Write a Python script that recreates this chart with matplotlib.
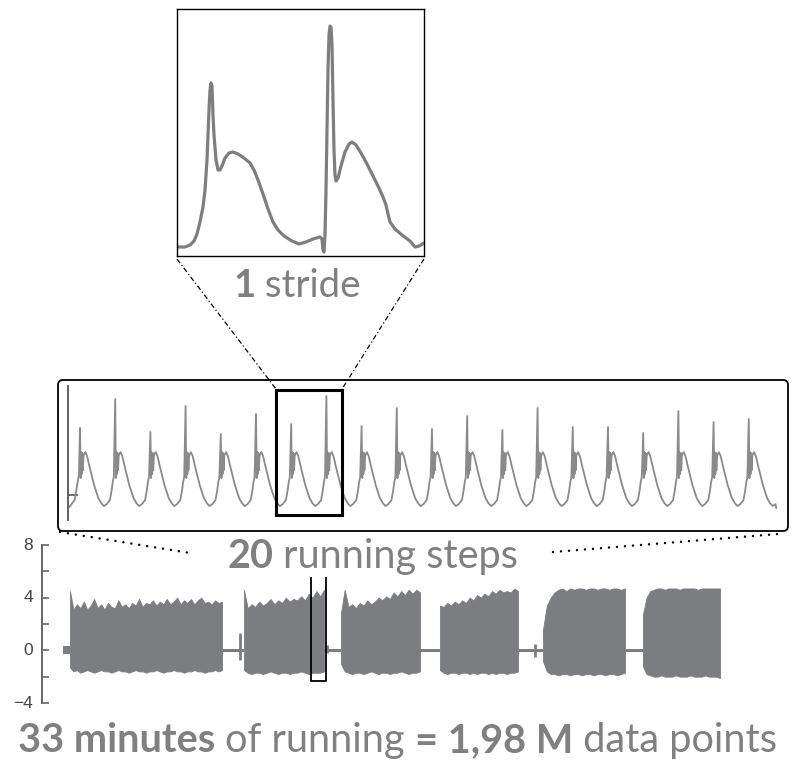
import matplotlib
matplotlib.use("Agg")
import matplotlib.pyplot as plt
from matplotlib.patches import FancyBboxPatch, Rectangle
from matplotlib.transforms import blended_transform_factory
import numpy as np

# ---------------- data ----------------
# one stride (zoomed): sample index and raw amplitude
stride_sample = [0, 8, 13, 17, 20, 23, 26, 28, 30, 32, 33, 34, 35, 36, 37, 39, 41, 43, 45, 48,
                 52, 56, 61, 67, 73, 77, 81, 86, 91, 96, 101, 107, 115, 122, 129, 136, 143, 145,
                 146, 147, 148, 149, 150, 151, 152, 153, 154, 155, 156, 157, 158, 159, 161, 164,
                 168, 172, 175, 179, 184, 189, 195, 201, 206, 209, 211, 213, 218, 225, 233, 238,
                 242, 247]
stride_raw = [9, 9, 11, 15, 22, 34, 49, 66, 96, 146, 166, 173, 170, 141, 121, 96, 86, 86, 90, 98,
              103, 104, 102, 98, 93, 86, 76, 62, 47, 34, 26, 20, 15, 12, 14, 17, 19, 17,
              6, 4, 21, 66, 126, 186, 221, 230, 229, 211, 156, 106, 81, 75, 78, 90,
              104, 112, 114, 111, 103, 94, 82, 70, 59, 51, 42, 34, 27, 21, 15, 9,
              10, 13]

# 20 running steps: peak amplitude of each step
step_peaks = [6.87, 9.03, 6.57, 8.51, 6.42, 7.91, 7.16, 9.25, 7.01, 8.36,
              6.79, 7.76, 6.72, 8.36, 6.94, 6.94, 6.49, 8.13, 7.31, 7.54]
# shape of one step (phase within step, amplitude); phase 0 = peak
step_phase = [0.02, 0.035, 0.05, 0.065, 0.08, 0.10, 0.15, 0.20, 0.28, 0.40, 0.52,
              0.60, 0.68, 0.76, 0.85, 0.90, 0.93, 0.96]
step_amp = [3.13, 5.07, 3.43, 5.00, 3.70, 4.80, 5.07, 4.78, 3.88, 2.61, 1.64,
            1.27, 1.04, 1.19, 1.49, 2.24, 2.84, 3.20]
lead_phase = [-0.30, -0.15, -0.06, -0.03]
lead_amp = [0.97, 1.50, 2.90, 3.40]
end_amp = 0.9
step_ytick = [1.9]

# 33 minutes of running (minutes, acceleration)
yticks_major = [-4, 0, 4, 8]
ytick_labels = ["\u22124", "0", "4", "8"]
yticks_minor = [-2, 2, 6]
burst_start = [0.30, 9.05, 13.93, 18.91, 24.09, 29.12]
burst_end = [7.95, 13.08, 17.91, 22.84, 28.22, 33.00]
burst_upper = [
    [4.5, 3.1, 3.5, 3.2, 3.7, 3.1, 3.4, 3.9, 3.2, 3.5, 3.1, 3.6, 3.3, 3.2, 3.8, 3.3,
     3.5, 3.2, 3.6, 3.4, 3.9, 3.3, 3.6, 3.5, 3.8, 3.4, 3.7, 3.5, 3.9, 3.5, 3.7, 4.0,
     3.5, 3.8, 3.6, 3.9, 3.5, 3.8, 4.0, 3.6, 3.7, 3.5, 3.8, 3.6, 3.7],
    [4.6, 3.2, 3.5, 3.3, 3.7, 3.4, 3.6, 3.9, 3.5, 3.8, 3.6, 4.0, 3.7, 3.9, 3.8, 4.1,
     3.8, 4.3, 4.0, 4.5, 4.1, 4.6],
    [2.8, 4.6, 3.3, 3.5, 3.2, 3.6, 3.4, 3.8, 3.5, 3.7, 4.0, 3.8, 4.1, 3.9, 4.4, 4.1,
     4.5, 4.2, 4.6, 4.3, 4.6, 4.4],
    [3.4, 3.3, 3.6, 3.4, 3.7, 3.5, 3.8, 3.6, 4.0, 3.8, 4.2, 4.0, 4.3, 4.1, 4.5, 4.3,
     4.6, 4.4, 4.5, 4.4, 4.7, 4.5],
    [1.5, 3.4, 4.0, 4.4, 4.6, 4.7, 4.5, 4.7, 4.6, 4.7, 4.7, 4.6, 4.7, 4.7, 4.6, 4.7,
     4.7, 4.6, 4.7, 4.7, 4.6, 4.7],
    [2.7, 4.0, 4.5, 4.6, 4.7, 4.7, 4.6, 4.7, 4.7, 4.7, 4.6, 4.7, 4.7, 4.7, 4.7, 4.6,
     4.7, 4.7, 4.7, 4.7, 4.7, 4.7],
]
burst_lower = [
    [-1.3, -1.6, -1.5, -1.7, -1.6, -1.5, -1.6, -1.7, -1.6, -1.5, -1.6, -1.6, -1.7, -1.6, -1.5, -1.6,
     -1.6, -1.7, -1.6, -1.5, -1.6, -1.6, -1.7, -1.6, -1.6, -1.5, -1.6, -1.7, -1.6, -1.6, -1.5, -1.6,
     -1.6, -1.7, -1.6, -1.6, -1.5, -1.6, -1.6, -1.7, -1.6, -1.6, -1.5, -1.6, -1.5],
    [-1.5, -1.7, -1.8, -1.7, -1.7, -1.8, -1.7, -1.6, -1.7, -1.8, -1.7, -1.7, -1.8, -1.7, -1.7, -1.6,
     -1.7, -1.8, -1.7, -1.7, -1.7, -1.6],
    [-1.0, -1.6, -1.7, -1.8, -1.7, -1.7, -1.8, -1.7, -1.6, -1.7, -1.8, -1.7, -1.7, -1.8, -1.7, -1.7,
     -1.6, -1.7, -1.8, -1.7, -1.7, -1.6],
    [-1.5, -1.7, -1.8, -1.7, -1.7, -1.8, -1.7, -1.7, -1.8, -1.7, -1.8, -1.7, -1.7, -1.8, -1.7, -1.8,
     -1.7, -1.7, -1.8, -1.7, -1.7, -1.6],
    [-0.8, -1.6, -1.8, -1.8, -1.9, -1.8, -1.8, -1.9, -1.8, -1.8, -1.9, -1.8, -1.8, -1.9, -1.8, -1.8,
     -1.9, -1.8, -1.8, -1.9, -1.8, -1.7],
    [-1.2, -1.8, -1.9, -2.0, -2.0, -1.9, -2.0, -2.0, -2.0, -1.9, -2.0, -2.0, -2.0, -1.9, -2.0, -2.0,
     -2.0, -1.9, -2.0, -2.0, -2.0, -2.1],
]
rest_start = [-0.05, 7.95, 13.08, 17.91, 22.84, 28.22]
rest_end = [0.30, 9.05, 13.93, 18.91, 24.09, 29.12]
rest_half = [0.3, 0.09, 0.09, 0.09, 0.09, 0.09]
blip_t = [8.85, 13.25, 23.7]
blip_hi = [1.3, 0.4, 0.5]
blip_lo = [-0.7, -0.2, -0.5]
highlight_t = [12.42, 13.18]
highlight_y = [-2.35, 5.5]

GREY_TXT = "#808080"
SIG = "#7e7e7e"
FILL = "#7c7d81"
FONT = ["Lato", "DejaVu Sans"]

W, H = 795, 760
fig = plt.figure(figsize=(W / 100, H / 100), dpi=100)
fig.patch.set_facecolor("white")


def px_axes(x0, y0, x1, y1, z=1):
    return fig.add_axes([x0 / W, 1 - y1 / H, (x1 - x0) / W, (y1 - y0) / H], zorder=z)


# ---------------- top: one stride ----------------
ax_top = px_axes(177, 9, 424, 256)
ax_top.plot(stride_sample, stride_raw, color=SIG, lw=2.3, solid_joinstyle="round",
            solid_capstyle="round")
ax_top.set_xlim(0, 247)
ax_top.set_ylim(0, 247)
ax_top.set_xticks([])
ax_top.set_yticks([])
for s in ax_top.spines.values():
    s.set_color("black")
    s.set_linewidth(1.0)

# ---------------- middle: 20 steps ----------------
ax_mid = px_axes(68, 386, 778, 520)
xs, ys = [], []
for f, a in zip(lead_phase, lead_amp):
    xs.append(f)
    ys.append(a)
n = len(step_peaks)
for k, pk in enumerate(step_peaks):
    xs.append(k)
    ys.append(pk)
    for f, a in zip(step_phase, step_amp):
        if k == n - 1 and f > 0.76:
            break
        xs.append(k + f)
        ys.append(a)
xs.append(n - 1 + 0.78)
ys.append(end_amp)
ax_mid.plot(xs, ys, color="#8a8a8a", lw=1.3)
ax_mid.set_xlim(-0.341, 19.83)
ax_mid.set_ylim(0, 10)
ax_mid.set_facecolor("none")
for side in ["top", "right", "bottom"]:
    ax_mid.spines[side].set_visible(False)
ax_mid.spines["left"].set_color("#555555")
ax_mid.spines["left"].set_linewidth(1.3)
ax_mid.set_xticks([])
ax_mid.set_yticks(step_ytick)
ax_mid.tick_params(axis="y", direction="in", length=7, width=1.2, color="#555555",
                   labelleft=False)

# ---------------- bottom: 33 minutes ----------------
ax_bot = px_axes(42, 545, 742, 703)
for s0, s1, hw in zip(rest_start, rest_end, rest_half):
    ax_bot.fill_between([s0, s1], [-hw, -hw], [hw, hw], color=FILL, lw=0)
for t, hi, lo in zip(blip_t, blip_hi, blip_lo):
    ax_bot.vlines(t, lo, hi, color=FILL, lw=2.0)
for s0, s1, up, lo in zip(burst_start, burst_end, burst_upper, burst_lower):
    tt = np.linspace(s0, s1, len(up))
    ax_bot.fill_between(tt, lo, up, color=FILL, lw=0.6, edgecolor=FILL)
ax_bot.plot([highlight_t[0], highlight_t[0], highlight_t[1], highlight_t[1]],
            [highlight_y[1], highlight_y[0], highlight_y[0], highlight_y[1]],
            color="black", lw=1.3)
ax_bot.set_xlim(-1.107, 34.107)
ax_bot.set_ylim(-4, 8)
ax_bot.set_facecolor("none")
for side in ["top", "right", "bottom"]:
    ax_bot.spines[side].set_visible(False)
ax_bot.spines["left"].set_color("#666666")
ax_bot.spines["left"].set_linewidth(1.4)
ax_bot.set_xticks([])
ax_bot.set_yticks(yticks_major)
ax_bot.set_yticks(yticks_minor, minor=True)
ax_bot.tick_params(axis="y", which="both", direction="in", length=5, width=1.2,
                   color="#666666", labelleft=False)
lab_tr = blended_transform_factory(ax_bot.transAxes, ax_bot.transData)
for v, s in zip(yticks_major, ytick_labels):
    ax_bot.text(-9 / 700, v, s, transform=lab_tr, ha="right", va="center",
                fontsize=12.5, family=["Liberation Sans", "DejaVu Sans"], color="#444444",
                clip_on=False)

# ---------------- overlay: frames, connectors, texts ----------------
ov = fig.add_axes([0, 0, 1, 1], zorder=10)
ov.set_xlim(0, W)
ov.set_ylim(H, 0)
ov.axis("off")
ov.set_facecolor("none")

ov.add_patch(FancyBboxPatch((58, 380), 730, 151, boxstyle="round,pad=0,rounding_size=5",
                            fill=False, ec="black", lw=1.3))
ov.add_patch(Rectangle((276, 390), 66, 125, fill=False, ec="black", lw=2.2))
dashdot = (0, (4, 2, 1, 2))
ov.plot([177, 276], [259, 389], color="black", lw=0.9, ls=dashdot)
ov.plot([424, 342], [259, 389], color="black", lw=0.9, ls=dashdot)
ov.plot([60, 190], [532, 553], color="black", lw=1.8, ls=(0, (0.01, 3.2)),
        dash_capstyle="round")
ov.plot([553, 778], [552, 534], color="black", lw=1.8, ls=(0, (0.01, 3.2)),
        dash_capstyle="round")

renderer = fig.canvas.get_renderer()


def part_width(s, size, weight):
    a = ov.text(0, 0, "|" + s + "|", fontsize=size, fontweight=weight, family=FONT)
    b = ov.text(0, 0, "||", fontsize=size, fontweight=weight, family=FONT)
    w = a.get_window_extent(renderer).width - b.get_window_extent(renderer).width
    a.remove()
    b.remove()
    return w


def rich_text(parts, cx, y, target_w, size0=24):
    tot0 = sum(part_width(s, size0, w) for s, w in parts)
    size = size0 * target_w / tot0
    widths = [part_width(s, size, w) for s, w in parts]
    x = cx - sum(widths) / 2
    for (s, w), pw in zip(parts, widths):
        ov.text(x, y, s, fontsize=size, fontweight=w, family=FONT, color=GREY_TXT,
                ha="left", va="baseline")
        x += pw


rich_text([("1", "bold"), (" stride", "normal")], 297, 297, 128)
rich_text([("20", "bold"), (" running steps", "normal")], 372.5, 568, 291)
rich_text([("33 minutes", "bold"), (" of running ", "normal"), ("= 1,98 M", "bold"),
           (" data points", "normal")], 397.5, 752, 761)

fig.savefig("out.png", dpi=100, facecolor="white")
